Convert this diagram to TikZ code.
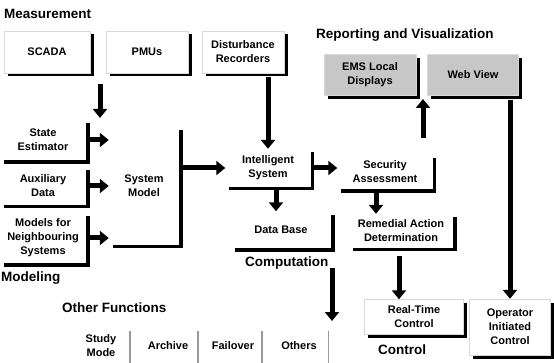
\documentclass[tikz,border=0pt]{standalone}
\usepackage{fontspec}
\setmainfont{Liberation Sans}
\usetikzlibrary{arrows.meta, shadows, positioning}
\newcommand{\boxfont}{\fontsize{11}{14}\selectfont\bfseries}
\newcommand{\labelfont}{\fontsize{13.5}{15}\selectfont\bfseries}
\tikzset{
  panel/.style={rectangle, draw=black!15, fill=white, align=center, font=\boxfont, inner sep=1pt,
    drop shadow={shadow xshift=3.5pt, shadow yshift=-3.5pt, opacity=1, fill=black}},
  greypanel/.style={panel, fill=black!22},
  openpanel/.style={rectangle, fill=white, align=center, font=\boxfont, inner sep=1pt,
    drop shadow={shadow xshift=3.5pt, shadow yshift=-3.5pt, opacity=1, fill=black}},
  faintpanel/.style={rectangle, fill=white, align=center, font=\boxfont, inner sep=1pt,
    drop shadow={shadow xshift=1.8pt, shadow yshift=-1.8pt, opacity=1, fill=black!40}},
  grouplabel/.style={anchor=west, inner sep=0pt, font=\labelfont},
  arrow/.style={line width=5pt, -{Triangle[length=9pt, width=14pt]}},
}
\begin{document}
\begin{tikzpicture}[x=1pt, y=-1pt]
  \useasboundingbox (0,0) rectangle (554,363);
  % Measurement
  \node[grouplabel] (measlabel) at (4,14) {Measurement};
  \node[panel, minimum width=86pt, minimum height=42pt] (scada) at (47,52) {SCADA};
  \node[panel, minimum width=82pt, minimum height=42pt] (pmus) at (147,52) {PMUs};
  \node[panel, minimum width=82pt, minimum height=42pt] (dist) at (243,52) {Disturbance\\Recorders};
  % Reporting and Visualization
  \node[grouplabel] (replabel) at (316,35) {Reporting and Visualization};
  \node[greypanel, minimum width=92pt, minimum height=41pt] (ems) at (370,75) {EMS Local\\Displays};
  \node[greypanel, minimum width=91pt, minimum height=41pt] (web) at (473,75) {Web View};
  % Modeling
  \node[openpanel, minimum width=86pt, minimum height=41pt] (state) at (43,140) {State\\Estimator};
  \node[openpanel, minimum width=86pt, minimum height=38pt] (aux) at (43,186) {Auxiliary\\Data};
  \node[openpanel, minimum width=86pt, minimum height=51pt] (models) at (43,238) {Models for\\Neighbouring\\Systems};
  \node[openpanel, minimum width=70pt, minimum height=118pt] (sysmodel) at (144,186) {System\\Model};
  \node[grouplabel] (modlabel) at (1,278) {Modeling};
  % Computation
  \node[openpanel, minimum width=85pt, minimum height=38pt] (intel) at (268,168) {Intelligent\\System};
  \node[openpanel, minimum width=95pt, minimum height=35pt] (secur) at (385,172) {Security\\Assessment};
  \node[openpanel, minimum width=100pt, minimum height=37pt] (database) at (281,230) {Data Base};
  \node[openpanel, minimum width=104pt, minimum height=34pt] (remedial) at (401,231) {Remedial Action\\Determination};
  \node[grouplabel] (complabel) at (245,263) {Computation};
  % Other Functions
  \node[grouplabel] (otherlabel) at (62,308) {Other Functions};
  \node[faintpanel, minimum width=56pt, minimum height=33pt] (study) at (101,346) {Study\\Mode};
  \node[faintpanel, minimum width=58pt, minimum height=33pt] (archive) at (168,346) {Archive};
  \node[faintpanel, minimum width=56pt, minimum height=33pt] (failover) at (233,346) {Failover};
  \node[faintpanel, minimum width=57pt, minimum height=33pt] (others) at (299,346) {Others};
  % Control
  \node[panel, minimum width=99pt, minimum height=35pt] (realtime) at (414,317) {Real-Time\\Control};
  \node[panel, minimum width=81pt, minimum height=56pt] (operator) at (510,327) {Operator\\Initiated\\Control};
  \node[grouplabel] (ctrllabel) at (378,350) {Control};

  % free ends
  \coordinate (measout) at (100,84);
  \coordinate (modelin) at (100,118);
  \coordinate (securtop) at (423,138);
  \coordinate (emsfoot) at (423,99);
  \coordinate (compout) at (332,268);
  \coordinate (otherin) at (332,321);

  % Arrows
  \draw[arrow] (measout) -- (modelin);
  \draw[arrow] ([yshift=-4pt]dist.south -| intel.north) -- (intel.north);
  \draw[arrow] ([xshift=3pt]state.east) -- (state.east -| sysmodel.west);
  \draw[arrow] ([xshift=3pt]aux.east) -- (aux.east -| sysmodel.west);
  \draw[arrow] ([xshift=3pt]models.east) -- (models.east -| sysmodel.west);
  \draw[arrow] ([xshift=3pt]intel.west -| sysmodel.east) -- (intel.west);
  \draw[arrow] ([xshift=3pt]intel.east) -- (intel.east -| secur.west);
  \draw[arrow] (securtop) -- (emsfoot);
  \draw[arrow] ([xshift=8pt, yshift=-3pt]intel.south) -- ([xshift=8pt]intel.south |- database.north);
  \draw[arrow] ([xshift=-9pt, yshift=-3pt]secur.south) -- ([xshift=-9pt]secur.south |- remedial.north);
  \draw[arrow] ([yshift=-4pt]operator.north |- web.south) -- (operator.north);
  \draw[arrow] ([xshift=-15pt, yshift=-8pt]realtime.north |- remedial.south) -- ([xshift=-15pt]realtime.north);
  \draw[arrow] (compout) -- (otherin);
\end{tikzpicture}
\end{document}
